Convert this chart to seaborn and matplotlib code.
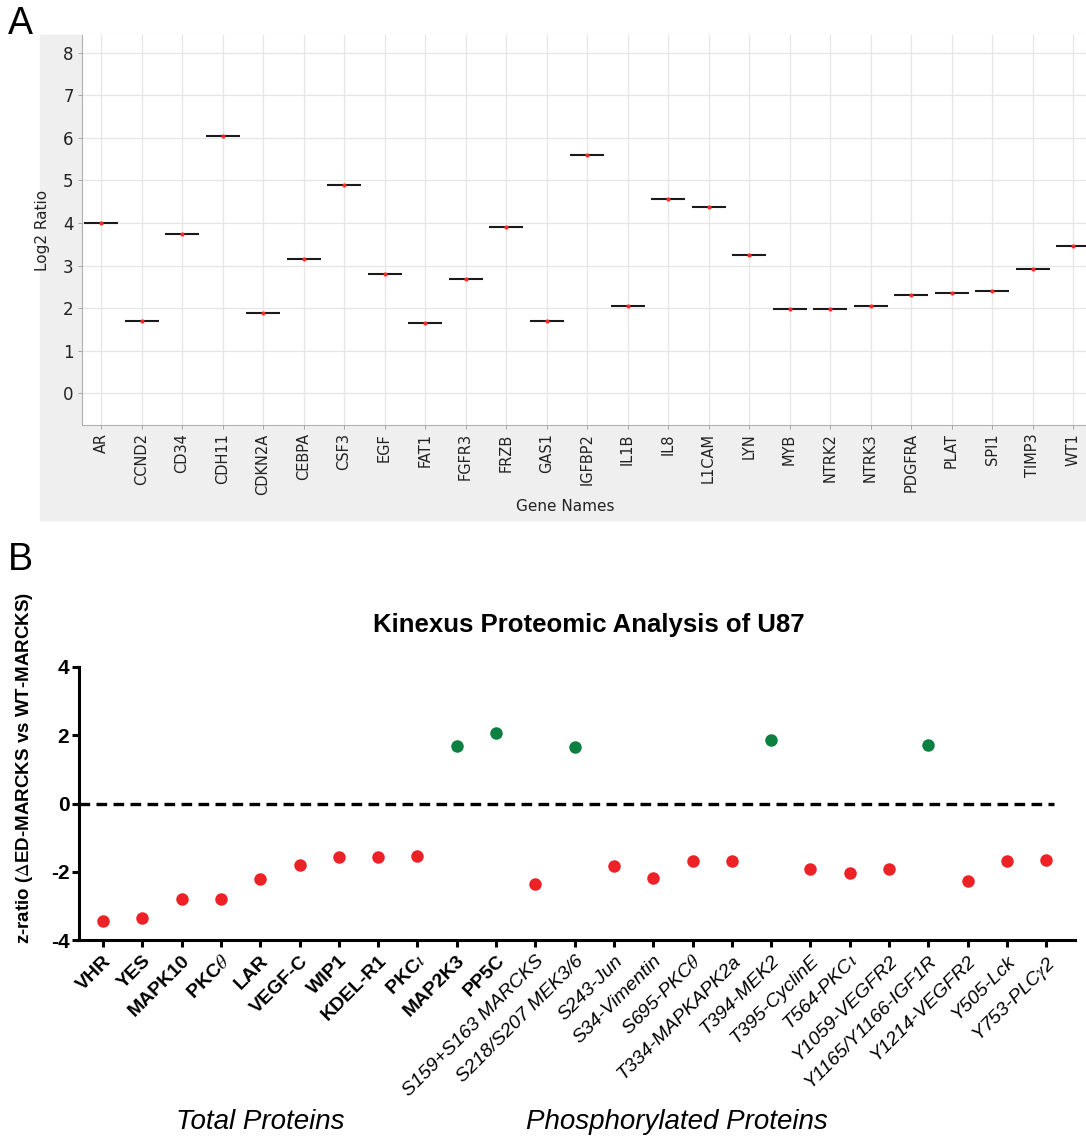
import matplotlib
matplotlib.use("Agg")
import matplotlib.pyplot as plt
from matplotlib.patches import Rectangle
import pandas as pd
import seaborn as sns

# panel A: gene expression (log2 ratio)
genes = ["AR", "CCND2", "CD34", "CDH11", "CDKN2A", "CEBPA", "CSF3", "EGF", "FAT1",
         "FGFR3", "FRZB", "GAS1", "IGFBP2", "IL1B", "IL8", "L1CAM", "LYN", "MYB",
         "NTRK2", "NTRK3", "PDGFRA", "PLAT", "SPI1", "TIMP3", "WT1"]
log2_ratio = [4.0, 1.69, 3.74, 6.05, 1.88, 3.15, 4.89, 2.80, 1.65,
              2.68, 3.90, 1.69, 5.60, 2.05, 4.56, 4.38, 3.25, 1.98,
              1.98, 2.05, 2.30, 2.35, 2.40, 2.92, 3.46]
log2_ticks = [0, 1, 2, 3, 4, 5, 6, 7, 8]

# panel B: Kinexus z-ratios
total_proteins = ["VHR", "YES", "MAPK10", r"PKC$\theta$", "LAR", "VEGF-C", "WIP1",
                  "KDEL-R1", r"PKC$\iota$", "MAP2K3", "PP5C"]
total_z = [-3.44, -3.35, -2.80, -2.79, -2.20, -1.80, -1.56, -1.56, -1.53, 1.68, 2.06]
phospho_proteins = ["S159+S163 MARCKS", "S218/S207 MEK3/6", "S243-Jun", "S34-Vimentin",
                    r"S695-PKC$\theta$", "T334-MAPKAPK2a", "T394-MEK2", "T395-CyclinE",
                    r"T564-PKC$\iota$", "Y1059-VEGFR2", "Y1165/Y1166-IGF1R",
                    "Y1214-VEGFR2", "Y505-Lck", r"Y753-PLC$\gamma$2"]
phospho_z = [-2.36, 1.66, -1.82, -2.17, -1.69, -1.69, 1.86, -1.92, -2.05, -1.92, 1.71,
             -2.27, -1.69, -1.66]
z_ticks = [-4, -2, 0, 2, 4]

sns.set_style("white")
plt.rcParams["font.family"] = ["Liberation Sans", "DejaVu Sans"]
plt.rcParams["mathtext.fontset"] = "stix"
plt.rcParams["text.color"] = "black"
plt.rcParams["axes.labelcolor"] = "black"

W, H = 1086, 1147
fig = plt.figure(figsize=(W / 100, H / 100), dpi=100)

# ---------------- panel A ----------------
fig.patches.append(Rectangle((40 / W, 1 - 520 / H), (W - 40) / W, (520 - 35) / H,
                             transform=fig.transFigure, color="#efefef", zorder=-5))
axA = fig.add_axes([82 / W, 1 - 425 / H, (W - 82) / W, (425 - 35) / H])
df_a = pd.DataFrame({"gene": genes, "ratio": log2_ratio})
sns.stripplot(data=df_a, x="gene", y="ratio", order=genes, jitter=False, marker="_",
              size=24.5, linewidth=1.5, color="#1a1a1a", edgecolor="#1a1a1a", ax=axA, zorder=3)
sns.stripplot(data=df_a, x="gene", y="ratio", order=genes, jitter=False,
              size=3, color="#ff2a2a", ax=axA, zorder=4)
axA.set_ylim(-0.75, 8.42)
axA.set_xlim(-0.47, len(genes) - 1 + 0.32)
axA.set_yticks(log2_ticks)
axA.grid(True, color="#e6e6e6", lw=0.9)
axA.set_axisbelow(True)
for s in ["top", "right"]:
    axA.spines[s].set_visible(False)
for s in ["left", "bottom"]:
    axA.spines[s].set_color("#b0b0b0")
    axA.spines[s].set_linewidth(0.8)
axA.tick_params(axis="both", which="both", direction="out", length=3, width=0.6,
                color="#999999", labelcolor="#222222", bottom=True, left=True)
axA.tick_params(axis="x", labelrotation=90, labelsize=10.5, pad=3)
axA.tick_params(axis="y", labelsize=12, pad=3)
for lab in axA.get_xticklabels() + axA.get_yticklabels():
    lab.set_family("DejaVu Sans")
axA.set_xlabel("Gene Names", fontsize=11, family="DejaVu Sans", color="#222222")
axA.set_ylabel("Log2 Ratio", fontsize=11, family="DejaVu Sans", color="#222222")
axA.xaxis.set_label_coords((565 - 82) / (W - 82), (425 - 499) / 390)
axA.yaxis.set_label_coords((50 - 82) / (W - 82), 0.5)
fig.text(8 / W, 1 - 24 / H, "A", fontsize=27, va="center", ha="left")

# ---------------- panel B ----------------
labels_b = total_proteins + phospho_proteins
z_b = total_z + phospho_z
df_b = pd.DataFrame({"protein": labels_b, "z": z_b})
df_b["direction"] = ["up" if v > 0 else "down" for v in df_b["z"]]

axB = fig.add_axes([79 / W, 1 - 940 / H, (1075 - 79) / W, (940 - 667) / H])
sns.stripplot(data=df_b, x="protein", y="z", hue="direction", order=labels_b,
              palette={"up": "#0b8040", "down": "#ec2227"}, jitter=False, size=9,
              legend=False, ax=axB, zorder=4)
axB.axhline(0, xmin=0, xmax=(1054 - 79) / (1075 - 79), color="black", lw=2.4,
            ls=(0, (3.2, 1.9)), zorder=3)
axB.set_ylim(-4, 4)
axB.set_xlim(-0.61, len(labels_b) - 1 + 0.73)
axB.set_yticks(z_ticks)
axB.set_yticklabels([str(t) for t in z_ticks])
for s in ["top", "right"]:
    axB.spines[s].set_visible(False)
for s in ["left", "bottom"]:
    axB.spines[s].set_linewidth(2.2)
    axB.spines[s].set_color("black")
axB.tick_params(axis="both", direction="out", length=5, width=2.2, color="black",
                labelcolor="black", bottom=True, left=True)
axB.tick_params(axis="y", labelsize=15, pad=2)
for lab in axB.get_yticklabels():
    lab.set_fontweight("bold")
axB.set_xticks(range(len(labels_b)))
axB.set_xticklabels(labels_b, rotation=45, ha="right", rotation_mode="anchor")
axB.tick_params(axis="x", pad=4)
for i, lab in enumerate(axB.get_xticklabels()):
    lab.set_color("black")
    if i < len(total_proteins):
        lab.set_fontweight("bold")
        lab.set_fontsize(14)
    else:
        lab.set_fontstyle("italic")
        lab.set_fontsize(14)
axB.set_xlabel("")
axB.set_ylabel(r"z-ratio ($\Delta$ED-MARCKS vs WT-MARCKS)", fontsize=13.5,
               fontweight="bold", color="black")
axB.yaxis.set_label_coords((35 - 79) / (1075 - 79), (940 - 768) / 273)

fig.text(589 / W, 1 - 625 / H, "Kinexus Proteomic Analysis of U87", fontsize=18.5,
         fontweight="bold", ha="center", va="center", color="black")
fig.text(260 / W, 1 - 1122 / H, "Total Proteins", fontsize=20, fontstyle="italic",
         ha="center", va="center", color="black")
fig.text(677 / W, 1 - 1122 / H, "Phosphorylated Proteins", fontsize=20, fontstyle="italic",
         ha="center", va="center", color="black")
fig.text(8 / W, 1 - 560 / H, "B", fontsize=27, va="center", ha="left", color="black")

fig.savefig("out.png", dpi=100)
